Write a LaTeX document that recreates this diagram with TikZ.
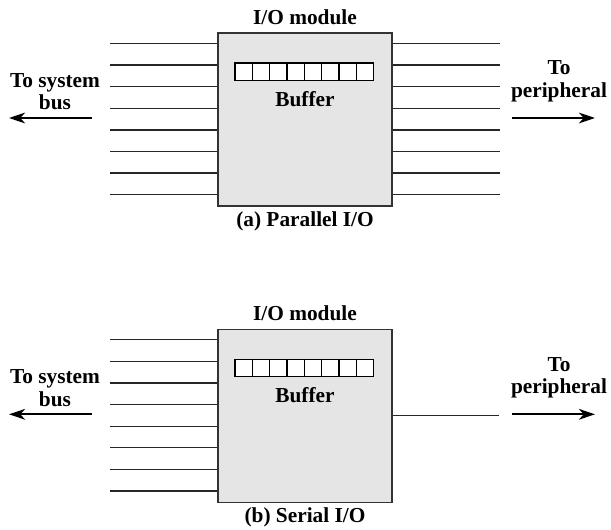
\documentclass[tikz,border=0pt]{standalone}
\usepackage{fontspec}
\setmainfont{Liberation Serif}
\usetikzlibrary{arrows.meta}
\begin{document}
\begin{tikzpicture}[x=0.75pt, y=-0.75pt,
  font=\fontsize{16}{17}\selectfont\bfseries,
  module/.style={draw=black!80, fill=black!10, line width=1.1pt,
    minimum width=130.5pt, minimum height=129.75pt, inner sep=0pt},
  cell/.style={draw=black, fill=white, line width=0.9pt,
    minimum width=13pt, minimum height=13pt, inner sep=0pt},
  wire/.style={draw=black!85, line width=1pt},
  flow/.style={line width=1.8pt, -{Stealth[length=12pt, width=8pt, inset=3.5pt]}},
  ]
  \useasboundingbox (0,0) rectangle (611,530);

  %%% the two panels share box, buffer, bus lines and side labels %%%
  \foreach \p/\dy in {a/0, b/296.3} {
    %%% module box %%%
    \node[module] (mod\p) at (305,119.5+\dy) {};
    \node[anchor=base] (title\p) at (305,24.5+\dy) {I/O module};

    %%% 8-cell buffer %%%
    \foreach \c in {0,...,7}
      \node[cell] (buf\p\c) at (243.7+17.33*\c,71.7+\dy) {};
    \node[anchor=base] (buflbl\p) at (305,106.5+\dy) {Buffer};

    %%% system bus side (8 lines) %%%
    \foreach \k in {0,...,7} {
      \coordinate (bus\p\k) at (110,43.5+21.6*\k+\dy);
      \draw[wire] (bus\p\k) -- (bus\p\k -| mod\p.west);
    }

    %%% direction labels and arrows %%%
    \node[align=center] (sys\p) at (55,91.6+\dy) {To system\\bus};
    \coordinate (sysfrom\p) at (92,118+\dy);
    \coordinate (systo\p) at (9,118+\dy);
    \draw[flow] (sysfrom\p) -- (systo\p);

    \node[align=center] (per\p) at (559,81.6+\dy) {To\\peripheral};
    \coordinate (perfrom\p) at (512,118+\dy);
    \coordinate (perto\p) at (595,118+\dy);
    \draw[flow] (perfrom\p) -- (perto\p);
  }

  %%% (a) peripheral side: 8 parallel lines %%%
  \foreach \k in {0,...,7} {
    \coordinate (outa\k) at (500,43.5+21.6*\k);
    \draw[wire] (moda.east |- outa\k) -- (outa\k);
  }
  %%% (b) peripheral side: one serial line %%%
  \coordinate (outb) at (499,415.8);
  \draw[wire] (outb -| modb.east) -- (outb);

  %%% captions %%%
  \node[anchor=base] (capa) at (305,226.7) {(a) Parallel I/O};
  \node[anchor=base] (capb) at (305,522.7) {(b) Serial I/O};
\end{tikzpicture}
\end{document}
